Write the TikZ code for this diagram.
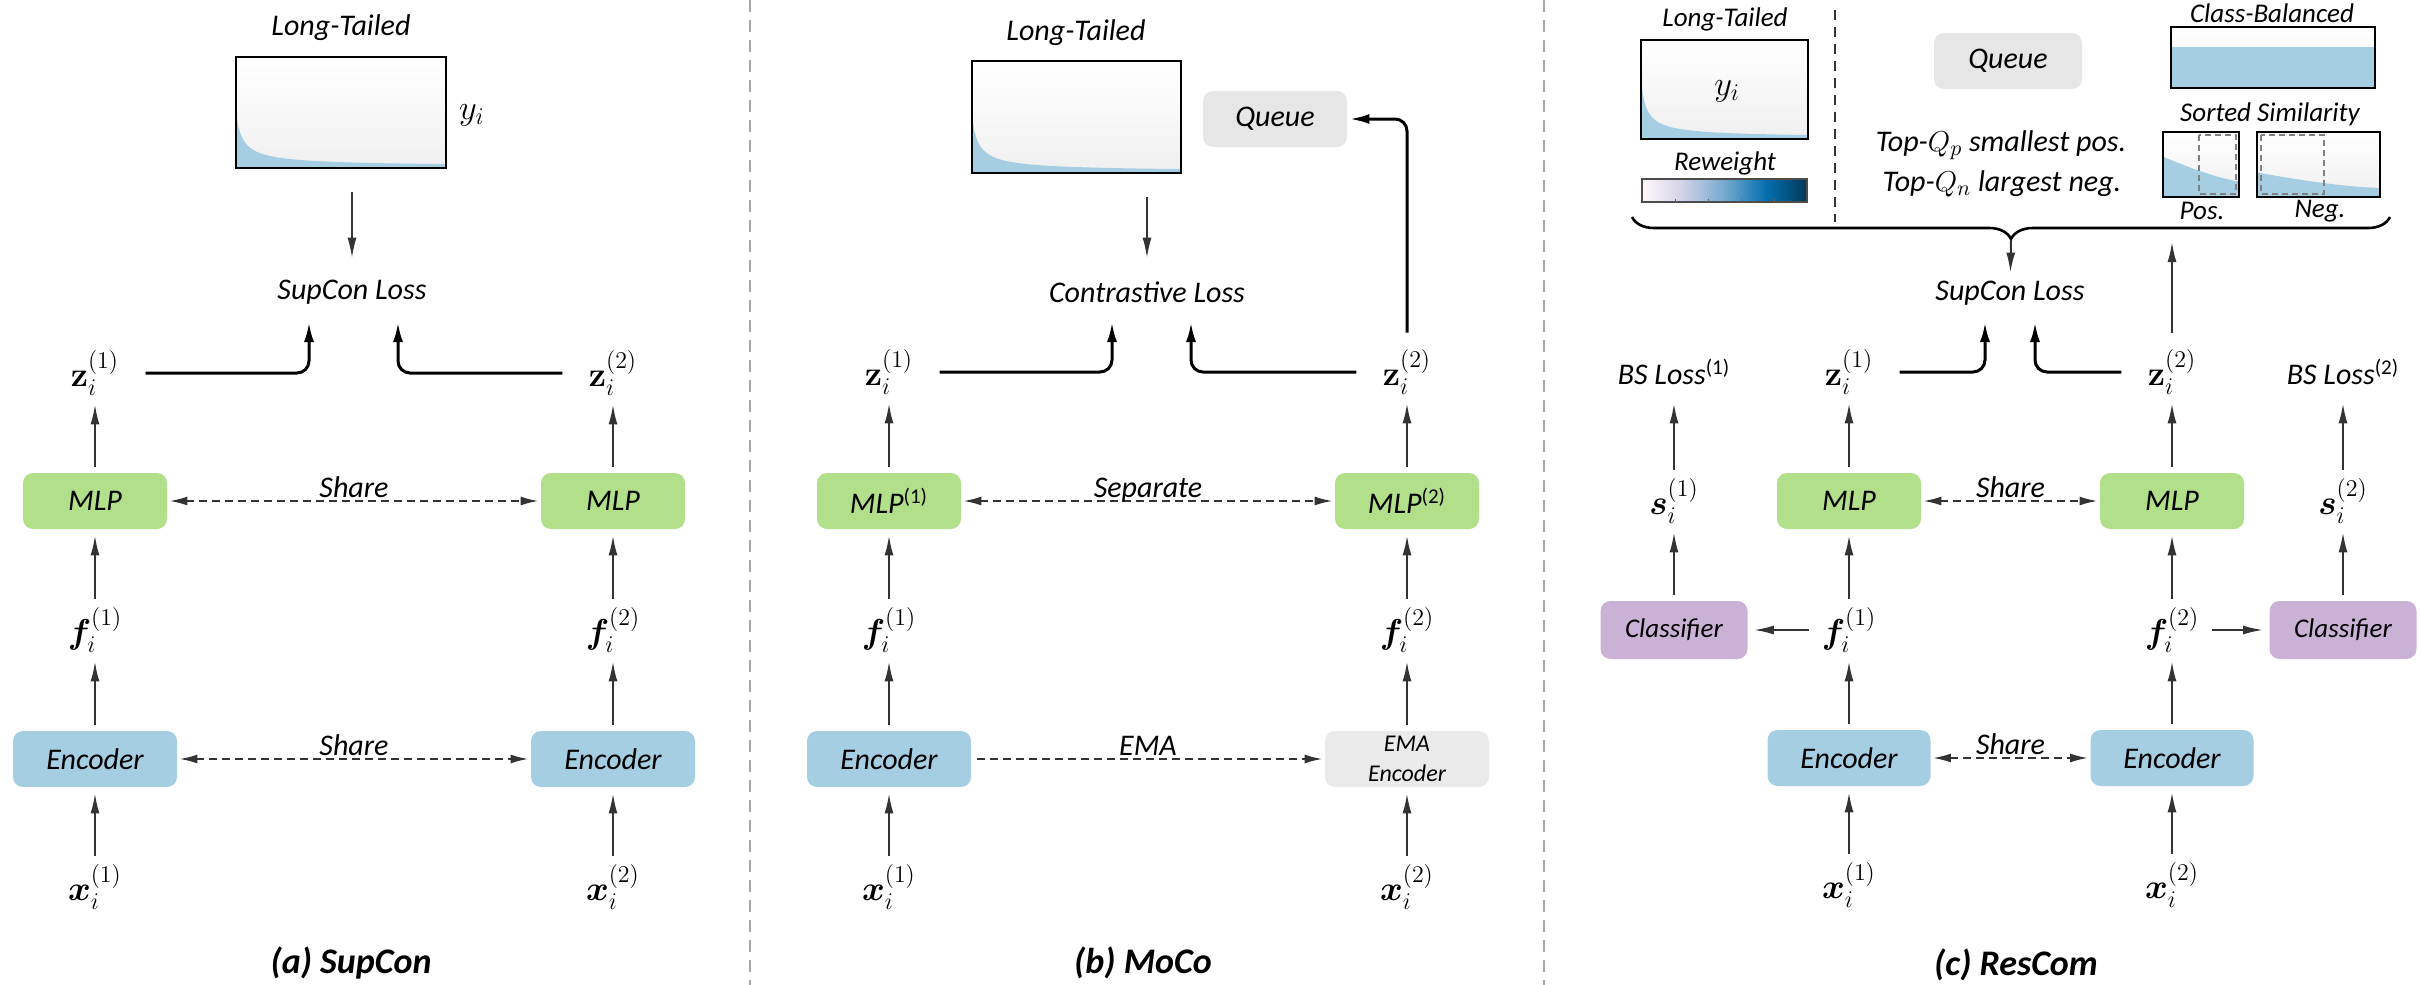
\documentclass[tikz,border=0pt]{standalone}
\usepackage{amsmath}
\usepackage{bm}
\usepackage[no-math]{fontspec}
\setmainfont{Carlito}
\usetikzlibrary{arrows.meta,decorations.pathreplacing,calc}
\definecolor{mlpg}{HTML}{B2DF8A}
\definecolor{encb}{HTML}{A6CEE3}
\definecolor{clsp}{HTML}{CAB2D6}
\definecolor{qgray}{HTML}{E6E6E6}
\definecolor{ltb}{HTML}{A6CEE3}
\definecolor{arrc}{HTML}{333333}
\definecolor{pb0}{HTML}{FFF7FB}
\definecolor{pb1}{HTML}{D0D1E6}
\definecolor{pb2}{HTML}{74A9CF}
\definecolor{pb3}{HTML}{0570B0}
\definecolor{pb4}{HTML}{023858}
\newcommand{\LTchart}[6]{%
 \shade[top color=white,bottom color=black!6] (#2,#3) rectangle (#4,#5);
 \fill[ltb] (#2,#5) -- plot[domain=0:1,samples=90] ({#2+\x*(#4-#2)},{#5-(#5-#3)*(0.01+(#6-0.01)/((1+40*\x)^0.8))}) -- (#4,#5) -- cycle;
 \draw[line width=1.2pt] (#2,#3) rectangle (#4,#5);
 \node[inner sep=0pt,outer sep=0pt,minimum width={(#4-#2)*0.5pt},minimum height={(#5-#3)*0.5pt}] (#1) at ({(#2+#4)/2},{(#3+#5)/2}) {};
}
\begin{document}
\begin{tikzpicture}[x=0.5pt,y=-0.5pt,
 txt/.style={font=\fontsize{15}{18}\selectfont\itshape, inner sep=0pt},
 stxt/.style={font=\fontsize{13.5}{16}\selectfont\itshape, inner sep=0pt},
 captxt/.style={font=\fontsize{18}{21}\selectfont\bfseries\itshape, inner sep=0pt},
 lbl/.style={font=\fontsize{17.28}{20}\selectfont, inner sep=0pt, minimum height=25pt},
 mth/.style={font=\fontsize{17.28}{20}\selectfont, inner sep=0pt},
 blk/.style={rounded corners=5pt, minimum height=28pt, inner sep=0pt, font=\fontsize{15}{18}\selectfont\itshape},
 mlp/.style={blk, fill=mlpg, minimum width=72pt},
 enc/.style={blk, fill=encb, minimum width=82pt},
 cls/.style={blk, fill=clsp, minimum width=73.5pt, minimum height=29pt, font=\fontsize{13.5}{16}\selectfont\itshape},
 que/.style={blk, fill=qgray, minimum width=72pt},
 arr/.style={draw=arrc, line width=1pt, -{Latex[length=10pt,width=4.5pt]}, shorten <=3pt, shorten >=3pt},
 darr/.style={draw=arrc, line width=1pt, dash pattern=on 4pt off 2.5pt, {Latex[length=9pt,width=4.5pt]}-{Latex[length=9pt,width=4.5pt]}, shorten <=1pt, shorten >=1pt},
 bnd/.style={draw=black, line width=1.5pt, rounded corners=6pt, -{Latex[length=10pt,width=5pt]}, shorten <=13pt},
 sepline/.style={draw=gray!70, line width=0.8pt, dash pattern=on 6pt off 4pt},
 simbox/.style={line width=1.2pt},
 dashbox/.style={draw=gray, line width=1pt, dash pattern=on 3pt off 2pt}
]
\useasboundingbox (0,0) rectangle (2421,985);

% separators
\draw[sepline] (750,0) -- (750,985);
\draw[sepline] (1544,0) -- (1544,985);

%%%%%%%%%%%%%%%% (a) SupCon
\node[txt] (ltta) at (341,28) {Long-Tailed};
\LTchart{lta}{236}{57}{446}{168}{0.5}
\node[mth] (ya) at (472,115) {$y_i$};
\node[txt, minimum height=28pt] (lossa) at (352,292) {SupCon Loss};
\draw[arr, line width=0.7pt, shorten <=12pt] (lta.south -| lossa) -- (lossa);
\node[lbl] (z1a) at (95,373) {$\mathbf{z}_i^{(1)}$};
\node[lbl] (z2a) at (613,373) {$\mathbf{z}_i^{(2)}$};
\coordinate (la1) at (309,322);
\coordinate (la2) at (398,322);
\draw[bnd] (z1a) -| (la1);
\draw[bnd] (z2a) -| (la2);
\node[mlp] (mlp1a) at (95,501) {MLP};
\node[mlp] (mlp2a) at (613,501) {MLP};
\node[lbl] (f1a) at (95,630) {$\bm{f}_i^{(1)}$};
\node[lbl] (f2a) at (613,630) {$\bm{f}_i^{(2)}$};
\node[enc] (enc1a) at (95,759) {Encoder};
\node[enc] (enc2a) at (613,759) {Encoder};
\node[lbl] (x1a) at (95,887) {$\bm{x}_i^{(1)}$};
\node[lbl] (x2a) at (613,887) {$\bm{x}_i^{(2)}$};
\foreach \c in {1,2}{
 \draw[arr] (x\c a) -- (enc\c a);
 \draw[arr] (enc\c a) -- (f\c a);
 \draw[arr] (f\c a) -- (mlp\c a);
 \draw[arr] (mlp\c a) -- (z\c a);
}
\draw[darr] (mlp1a) -- node[txt, anchor=base, yshift=2pt] {Share} (mlp2a);
\draw[darr] (enc1a) -- node[txt, anchor=base, yshift=2pt] {Share} (enc2a);
\node[captxt] (capa) at (351,963) {(a) SupCon};

%%%%%%%%%%%%%%%% (b) MoCo
\node[txt] (lttb) at (1076,33) {Long-Tailed};
\LTchart{ltbx}{972}{61}{1181}{173}{0.5}
\node[que] (queb) at (1275,119) {Queue};
\node[txt, minimum height=28pt] (lossb) at (1147,292) {Contrastive Loss};
\draw[arr, line width=0.7pt, shorten <=12pt] (ltbx.south -| lossb) -- (lossb);
\node[lbl] (z1b) at (889,372) {$\mathbf{z}_i^{(1)}$};
\node[lbl] (z2b) at (1407,372) {$\mathbf{z}_i^{(2)}$};
\coordinate (lb1) at (1112,322);
\coordinate (lb2) at (1191,322);
\draw[bnd] (z1b) -| (lb1);
\draw[bnd] (z2b) -| (lb2);
\draw[bnd, shorten <=7pt, shorten >=1pt] (z2b) |- (queb);
\node[mlp] (mlp1b) at (889,501) {MLP\textsuperscript{\upshape(1)}};
\node[mlp] (mlp2b) at (1407,501) {MLP\textsuperscript{\upshape(2)}};
\node[lbl] (f1b) at (889,630) {$\bm{f}_i^{(1)}$};
\node[lbl] (f2b) at (1407,630) {$\bm{f}_i^{(2)}$};
\node[enc] (enc1b) at (889,759) {Encoder};
\node[blk, fill=qgray!85, minimum width=82pt, align=center, font=\fontsize{12}{15}\selectfont\itshape] (enc2b) at (1407,759) {EMA\\Encoder};
\node[lbl] (x1b) at (889,887) {$\bm{x}_i^{(1)}$};
\node[lbl] (x2b) at (1407,887) {$\bm{x}_i^{(2)}$};
\foreach \c in {1,2}{
 \draw[arr] (x\c b) -- (enc\c b);
 \draw[arr] (enc\c b) -- (f\c b);
 \draw[arr] (f\c b) -- (mlp\c b);
 \draw[arr] (mlp\c b) -- (z\c b);
}
\draw[darr] (mlp1b) -- node[txt, anchor=base, yshift=2pt] {Separate} (mlp2b);
\draw[darr, -{Latex[length=9pt,width=4.5pt]}, shorten <=3pt] (enc1b) -- node[txt, anchor=base, yshift=2pt] {EMA} (enc2b);
\node[captxt] (capb) at (1143,963) {(b) MoCo};

%%%%%%%%%%%%%%%% (c) ResCom
\node[stxt] (lttc) at (1725,19) {Long-Tailed};
\LTchart{ltc}{1641}{40}{1808}{139}{0.6}
\node[mth] (yc) at (1727,91) {$y_i$};
\node[stxt] (rwc) at (1725,163) {Reweight};
\shade[left color=pb0, right color=pb1] (1642,179) rectangle (1684,202);
\shade[left color=pb1, right color=pb2] (1683,179) rectangle (1725,202);
\shade[left color=pb2, right color=pb3] (1724,179) rectangle (1766,202);
\shade[left color=pb3, right color=pb4] (1765,179) rectangle (1807,202);
\draw[line width=0.6pt, black!70] (1642,179) rectangle (1807,202);
\foreach \t in {1675,1708,1741,1774} \draw[line width=0.4pt, black!60] (\t,202) -- (\t,199);
\draw[draw=black!80, line width=0.8pt, dash pattern=on 5pt off 3.5pt] (1835,10) -- (1835,222);
\node[que, minimum width=74pt] (quec) at (2008,61) {Queue};
\node[txt] (tqp) at (2001,145) {Top-$Q_p$ smallest pos.};
\node[txt] (tqn) at (2002,184) {Top-$Q_n$ largest neg.};
\node[stxt] (cbt) at (2272,13) {Class-Balanced};
\shade[top color=white, bottom color=black!6] (2171,27) rectangle (2375,88);
\fill[ltb] (2171,47) rectangle (2375,88);
\draw[simbox] (2171,27) rectangle (2375,88);
\node[stxt] (sst) at (2270,114) {Sorted Similarity};
% pos
\shade[top color=white, bottom color=black!6] (2163,132) rectangle (2239,197);
\fill[ltb] (2163,197) -- plot[domain=0:1,samples=40] ({2163+\x*76},{197-65*(0.24+0.38*(1.0001-\x)^1.3)}) -- (2239,197) -- cycle;
\draw[dashbox] (2199,135) rectangle (2236,194);
\draw[simbox] (2163,132) rectangle (2239,197);
% neg
\shade[top color=white, bottom color=black!6] (2257,132) rectangle (2380,197);
\fill[ltb] (2257,197) -- plot[domain=0:1,samples=40] ({2257+\x*123},{197-65*(0.14+0.24*(1.0001-\x)^1.5)}) -- (2380,197) -- cycle;
\draw[dashbox] (2261,135) rectangle (2324,194);
\draw[simbox] (2257,132) rectangle (2380,197);
\node[stxt] (post) at (2202,211) {Pos.};
\node[stxt] (negt) at (2320,211) {Neg.};
% brace
\draw[line width=1.3pt, decorate, decoration={brace, amplitude=11pt}] (2390,217) -- (1632,217);
\coordinate (btip) at (2011,240);
\coordinate (bup) at (2172,242);
\node[txt, minimum height=20pt] (lossc) at (2010,293) {SupCon Loss};
\draw[arr, shorten <=0pt, shorten >=0pt] (btip) -- (lossc);
\node[txt, minimum height=25pt] (bs1) at (1674,372) {BS Loss\textsuperscript{\upshape(1)}};
\node[txt, minimum height=25pt] (bs2) at (2343,372) {BS Loss\textsuperscript{\upshape(2)}};
\node[lbl] (z1c) at (1849,372) {$\mathbf{z}_i^{(1)}$};
\node[lbl] (z2c) at (2172,372) {$\mathbf{z}_i^{(2)}$};
\coordinate (lc1) at (1985,322);
\coordinate (lc2) at (2035,322);
\draw[bnd] (z1c) -| (lc1);
\draw[bnd] (z2c) -| (lc2);
\draw[arr, shorten <=7pt, shorten >=0pt] (z2c) -- (bup);
\node[lbl] (s1c) at (1674,501) {$\bm{s}_i^{(1)}$};
\node[lbl] (s2c) at (2343,501) {$\bm{s}_i^{(2)}$};
\node[mlp] (mlp1c) at (1849,501) {MLP};
\node[mlp] (mlp2c) at (2172,501) {MLP};
\node[cls] (cls1c) at (1674,630) {Classifier};
\node[cls] (cls2c) at (2343,630) {Classifier};
\node[lbl] (f1c) at (1849,630) {$\bm{f}_i^{(1)}$};
\node[lbl] (f2c) at (2172,630) {$\bm{f}_i^{(2)}$};
\node[enc, minimum width=81.5pt] (enc1c) at (1849,758) {Encoder};
\node[enc, minimum width=81.5pt] (enc2c) at (2172,758) {Encoder};
\node[lbl] (x1c) at (1849,885) {$\bm{x}_i^{(1)}$};
\node[lbl] (x2c) at (2172,885) {$\bm{x}_i^{(2)}$};
\foreach \c in {1,2}{
 \draw[arr] (x\c c) -- (enc\c c);
 \draw[arr] (enc\c c) -- (f\c c);
 \draw[arr] (f\c c) -- (mlp\c c);
 \draw[arr] (mlp\c c) -- (z\c c);
 \draw[arr, shorten <=6pt] (f\c c) -- (cls\c c);
 \draw[arr] (cls\c c) -- (s\c c);
 \draw[arr] (s\c c) -- (bs\c);
}
\draw[darr] (mlp1c) -- node[txt, anchor=base, yshift=2pt] {Share} (mlp2c);
\draw[darr] (enc1c) -- node[txt, anchor=base, yshift=2pt] {Share} (enc2c);
\node[captxt] (capc) at (2016,965) {(c) ResCom};
\end{tikzpicture}
\end{document}
